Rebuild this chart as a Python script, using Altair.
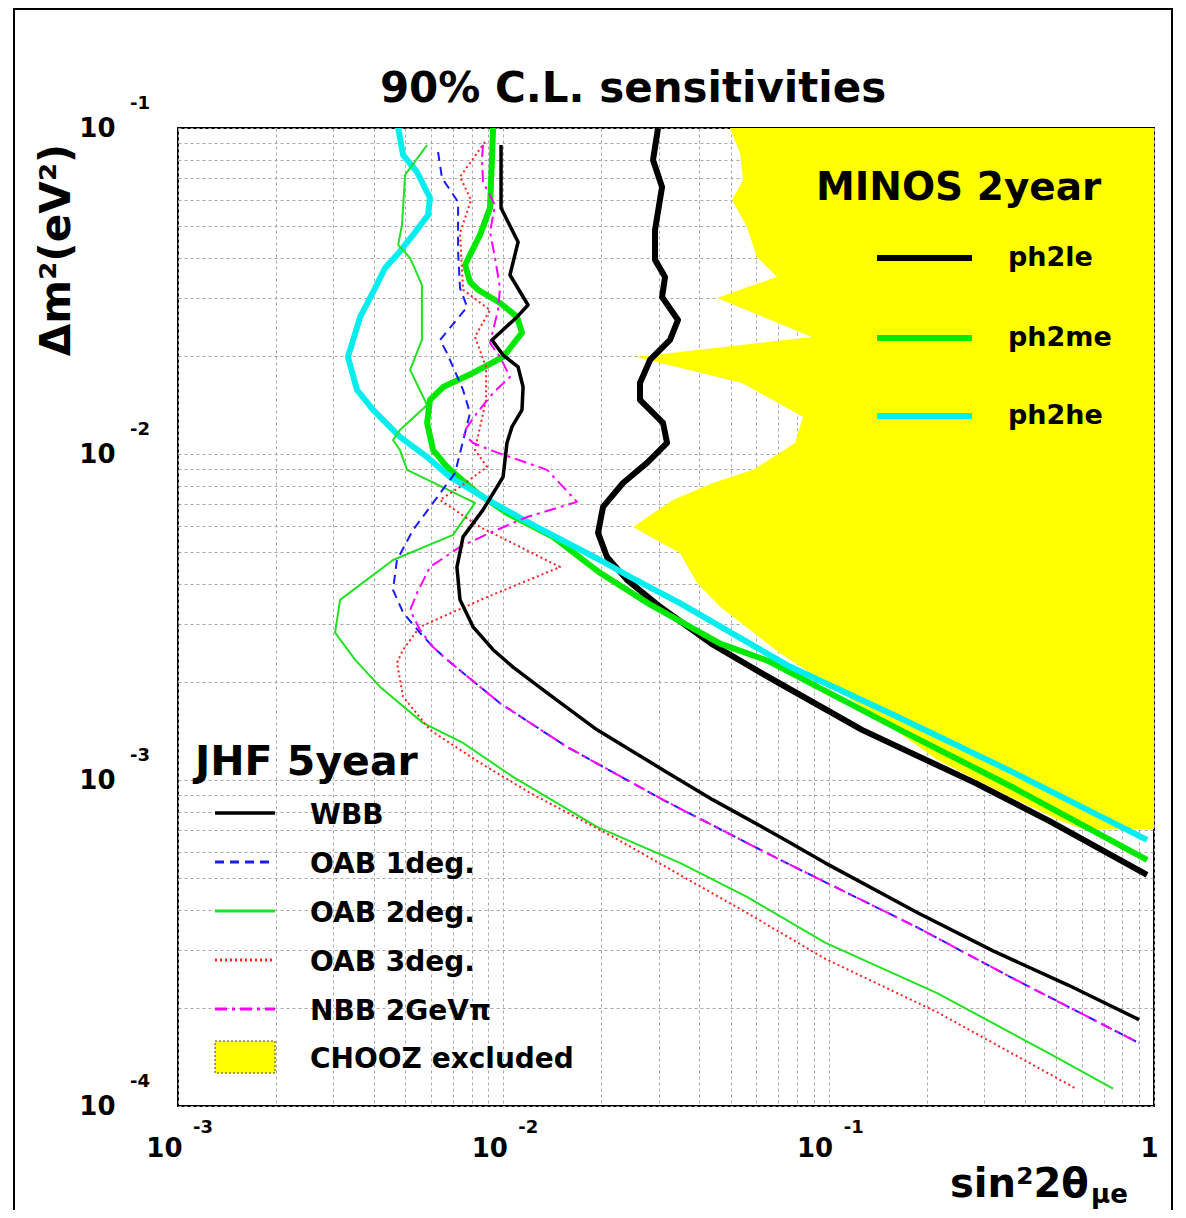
import altair as alt
import pandas as pd

FONT = "DejaVu Sans"
W, H = 976, 978

# ---------------- data (sin^2 2theta, delta m^2 [eV^2]) ----------------
wbb_x = [0.00984, 0.00984, 0.01110, 0.01048, 0.01191, 0.01102, 0.00923, 0.00998, 0.01110, 0.01150,
         0.01141, 0.01063, 0.01026, 0.01012, 0.00998, 0.00866, 0.00752, 0.00720, 0.00736, 0.00807,
         0.00930, 0.01071, 0.01363, 0.01941, 0.03097, 0.04411, 0.07088, 0.09748, 0.1883, 0.3201,
         0.5443, 0.8997]
wbb_y = [0.0887, 0.0568, 0.0447, 0.0354, 0.02865, 0.02633, 0.02238, 0.02012, 0.01849, 0.01605,
         0.01365, 0.01211, 0.01081, 0.00959, 0.00850, 0.00674, 0.00557, 0.00450, 0.00357, 0.00295,
         0.00251, 0.00222, 0.00185, 0.001425, 0.001074, 0.000869, 0.000669, 0.000557, 0.000391, 0.000299,
         0.000235, 0.000184]

oab1_x = [0.00630, 0.00648, 0.00726, 0.00726, 0.00736, 0.00774, 0.00639, 0.00671, 0.00752, 0.00790,
          0.00736, 0.00711, 0.00608, 0.00528, 0.00471, 0.00458, 0.00492, 0.00554, 0.00608, 0.00671,
          0.00977, 0.01570, 0.03097, 0.07088, 0.1883, 0.3663, 0.8997]
oab1_y = [0.0844, 0.0702, 0.0593, 0.0417, 0.0323, 0.02825, 0.02238, 0.02041, 0.01572, 0.01336,
          0.01007, 0.00875, 0.00708, 0.00585, 0.00473, 0.00383, 0.00326, 0.00283, 0.00256, 0.00234,
          0.00172, 0.001263, 0.000869, 0.000569, 0.000352, 0.000247, 0.000156]

oab2_x = [0.00583, 0.00499, 0.00488, 0.00475, 0.00517, 0.00562, 0.00562, 0.00517, 0.00583, 0.00481,
          0.00458, 0.00481, 0.00506, 0.00818, 0.00701, 0.00458, 0.00315, 0.00304, 0.00350, 0.00418,
          0.00566, 0.00752, 0.01071, 0.01941, 0.0349, 0.0561, 0.09748, 0.2155, 0.4760, 0.7484]
oab2_y = [0.0887, 0.0718, 0.0504, 0.0438, 0.0399, 0.0330, 0.02238, 0.01811, 0.01414, 0.01185,
          0.01104, 0.01029, 0.00894, 0.00708, 0.00565, 0.00473, 0.00357, 0.00283, 0.00234, 0.00193,
          0.001497, 0.001299, 0.001022, 0.000718, 0.000557, 0.000438, 0.000317, 0.000222, 0.000145, 0.000113]

oab3_x = [0.00878, 0.00736, 0.00796, 0.00736, 0.00752, 0.00910, 0.00818, 0.00885, 0.00885, 0.00818,
          0.00891, 0.00736, 0.00639, 0.00848, 0.01125, 0.01494, 0.00891, 0.00554, 0.00492, 0.00471,
          0.00492, 0.00595, 0.00848, 0.01208, 0.02174, 0.0561, 0.09748, 0.2155, 0.5761]
oab3_y = [0.0906, 0.0708, 0.0601, 0.0476, 0.0319, 0.02765, 0.02286, 0.01849, 0.01465, 0.01029,
          0.00913, 0.00793, 0.00723, 0.00597, 0.00519, 0.00450, 0.00364, 0.00295, 0.00251, 0.00229,
          0.00180, 0.001425, 0.001129, 0.000913, 0.000669, 0.000391, 0.000283, 0.000194, 0.000113]

nbb_x = [0.00866, 0.00860, 0.00866, 0.00943, 0.00910, 0.00943, 0.00977, 0.00963, 0.00910, 0.00977,
         0.01048, 0.00930, 0.00830, 0.00752, 0.00807, 0.00910, 0.01363, 0.01685, 0.01182, 0.00910,
         0.00736, 0.00595, 0.00543, 0.00517, 0.00554, 0.00608, 0.00671, 0.00977, 0.01570, 0.03097,
         0.07088, 0.1883, 0.3663, 0.8997]
nbb_y = [0.0887, 0.0809, 0.0683, 0.0580, 0.0480, 0.0399, 0.0323, 0.02765, 0.02191, 0.01984,
         0.01723, 0.01539, 0.01336, 0.01160, 0.01081, 0.01029, 0.00894, 0.00713, 0.00641, 0.00573,
         0.00519, 0.00450, 0.00375, 0.00332, 0.00289, 0.00256, 0.00234, 0.00172, 0.001263, 0.000869,
         0.000569, 0.000352, 0.000247, 0.000156]

ph2le_x = [0.02989, 0.02885, 0.03075, 0.02926, 0.02926, 0.03141, 0.03075, 0.03443, 0.03254, 0.02824,
           0.02631, 0.02631, 0.03097, 0.03186, 0.02765, 0.02332, 0.02025, 0.01955, 0.02083, 0.02400,
           0.03032, 0.04411, 0.0620, 0.1266, 0.2818, 0.4760, 0.9521]
ph2le_y = [0.1, 0.0798, 0.0659, 0.0487, 0.0394, 0.0349, 0.0303, 0.02578, 0.02238, 0.01943,
           0.01651, 0.01465, 0.01245, 0.01081, 0.00939, 0.00815, 0.00688, 0.00573, 0.00483, 0.00411,
           0.00340, 0.00260, 0.00213, 0.001425, 0.000980, 0.000749, 0.000512]

ph2me_x = [0.00930, 0.00923, 0.00910, 0.00848, 0.00790, 0.00763, 0.00790, 0.00836, 0.00977, 0.01102,
           0.01141, 0.00998, 0.00807, 0.00653, 0.00595, 0.00583, 0.00608, 0.00671, 0.00830, 0.01026,
           0.01422, 0.01982, 0.02804, 0.0464, 0.0651, 0.1657, 0.3663, 0.9521]
ph2me_y = [0.1, 0.0809, 0.0568, 0.0470, 0.0408, 0.0380, 0.0337, 0.0319, 0.02906, 0.02633,
           0.02351, 0.01984, 0.01773, 0.01605, 0.01465, 0.01245, 0.01029, 0.00913, 0.00760, 0.00659,
           0.00557, 0.00432, 0.00347, 0.00262, 0.00232, 0.001425, 0.000952, 0.000569]

ph2he_x = [0.00475, 0.00492, 0.00543, 0.00595, 0.00587, 0.00528, 0.00471, 0.00433, 0.00398, 0.00363,
           0.00333, 0.00355, 0.00398, 0.00481, 0.00583, 0.00686, 0.00930, 0.01269, 0.01982, 0.02452,
           0.0349, 0.0745, 0.1657, 0.3663, 0.9521]
ph2he_y = [0.1, 0.0826, 0.0733, 0.0610, 0.0541, 0.0470, 0.0408, 0.0372, 0.0314, 0.02633,
           0.01984, 0.01572, 0.01365, 0.01128, 0.00979, 0.00850, 0.00708, 0.00597, 0.00473, 0.00420,
           0.00349, 0.00225, 0.00155, 0.001059, 0.000655]

# CHOOZ excluded region: left boundary (sin^2 2theta) for each delta m^2, filled to sin^2 2theta = 1
chooz_x = [0.0497, 0.0534, 0.0546, 0.0505, 0.0561, 0.0602, 0.0694, 0.0454, 0.0889, 0.02557,
           0.0542, 0.0834, 0.0788, 0.0586, 0.0441, 0.0332, 0.02504, 0.0349, 0.0394, 0.0464,
           0.0709, 0.1266, 0.2155, 0.3663, 0.5179, 0.6051]
chooz_y = [0.1, 0.0838, 0.0693, 0.0601, 0.0497, 0.0402, 0.0349, 0.0301, 0.02286, 0.01984,
           0.01651, 0.01299, 0.01081, 0.00894, 0.00815, 0.00723, 0.00597, 0.00497, 0.00402, 0.00340,
           0.00245, 0.00168, 0.001153, 0.000881, 0.000749, 0.000708]
chooz_x2 = 1.0

x_ticks = [m * 10.0 ** e for e in (-3, -2, -1) for m in range(1, 10)] + [1.0]
y_ticks = [m * 10.0 ** e for e in (-4, -3, -2) for m in range(1, 10)] + [0.1]
x_decades = [0.001, 0.01, 0.1]
x_exps = ["-3", "-2", "-1"]
y_decades = [0.0001, 0.001, 0.01, 0.1]
y_exps = ["-4", "-3", "-2", "-1"]

jhf_labels = ["WBB", "OAB 1deg.", "OAB 2deg.", "OAB 3deg.", "NBB 2GeV\u03c0", "CHOOZ excluded"]
minos_labels = ["ph2le", "ph2me", "ph2he"]

# ---------------- styles ----------------
C_WBB, C_OAB1, C_OAB2, C_OAB3, C_NBB = "#000000", "#1a1aff", "#22e022", "#ff2020", "#ff00ff"
C_LE, C_ME, C_HE, C_CHOOZ = "#000000", "#00e800", "#00eeee", "#ffff00"
S_WBB, S_THIN, S_THICK = 3.5, 2, 6
D_OAB1, D_OAB3, D_NBB = [9, 6], [2, 3], [12, 5, 3, 5]

xscale = alt.Scale(type="log", domain=[1e-3, 1], nice=False)
yscale = alt.Scale(type="log", domain=[1e-4, 1e-1], nice=False)

axis_common = dict(grid=True, gridDash=[3, 3], gridColor="#a8a8a8", gridWidth=1, ticks=False,
                   tickSize=0, domain=False, labelFont=FONT, labelFontWeight="bold",
                   labelFontSize=26, labelColor="black", labelOverlap=False, labelFlush=False,
                   labelBound=False, title=None)
axis_x = alt.Axis(values=x_ticks,
                  labelExpr="datum.value == 1 ? '1' : (indexof([0.001, 0.01, 0.1], datum.value) >= 0 ? '10' : '')",
                  labelAlign="right", labelOffset=4, labelPadding=29, **axis_common)
axis_y = alt.Axis(values=y_ticks,
                  labelExpr="indexof([0.0001, 0.001, 0.01, 0.1], datum.value) >= 0 ? '10' : ''",
                  labelPadding=63, **axis_common)

X = lambda f, **k: alt.X(f, type="quantitative", scale=xscale, axis=axis_x, **k)
Y = lambda f, **k: alt.Y(f, type="quantitative", scale=yscale, axis=axis_y, **k)

dummy = pd.DataFrame({"a": [0]})


def curve(xs, ys, color, width, dash=None):
    df = pd.DataFrame({"x": xs, "y": ys, "i": list(range(len(xs)))})
    kw = dict(color=color, strokeWidth=width, clip=True, strokeJoin="round", strokeCap="butt")
    if dash:
        kw["strokeDash"] = dash
    return alt.Chart(df).mark_line(**kw).encode(x=X("x"), y=Y("y"), order=alt.Order("i:Q"))


def txt(s, x, y, size, align="left", baseline="alphabetic", angle=0):
    return alt.Chart(dummy).mark_text(text=s, font=FONT, fontWeight="bold", fontSize=size,
                                      align=align, baseline=baseline, angle=angle,
                                      color="black").encode(x=alt.value(x), y=alt.value(y))


def hline(x1, x2, y, color, width, dash=None):
    kw = dict(color=color, strokeWidth=width)
    if dash:
        kw["strokeDash"] = dash
    return alt.Chart(dummy).mark_rule(**kw).encode(x=alt.value(x1), x2=alt.value(x2), y=alt.value(y))


layers = []

# outer figure frame
layers.append(alt.Chart(dummy).mark_rect(fill=None, stroke="black", strokeWidth=2).encode(
    x=alt.value(-164), x2=alt.value(994), y=alt.value(-119), y2=alt.value(1100)))

# CHOOZ region (horizontal area: from boundary to sin^2 2theta = 1)
chooz_df = pd.DataFrame({"x": chooz_x, "x2": [chooz_x2] * len(chooz_x), "y": chooz_y})
layers.append(alt.Chart(chooz_df).mark_area(orient="horizontal", color=C_CHOOZ, opacity=1, clip=True)
              .encode(x=X("x", stack=None), x2="x2:Q", y=Y("y")))

# MINOS thick curves
layers.append(curve(ph2le_x, ph2le_y, C_LE, S_THICK))
layers.append(curve(ph2me_x, ph2me_y, C_ME, S_THICK))
layers.append(curve(ph2he_x, ph2he_y, C_HE, S_THICK))

# JHF curves
layers.append(curve(oab2_x, oab2_y, C_OAB2, S_THIN))
layers.append(curve(oab3_x, oab3_y, C_OAB3, S_THIN, D_OAB3))
layers.append(curve(oab1_x, oab1_y, C_OAB1, S_THIN, D_OAB1))
layers.append(curve(nbb_x, nbb_y, C_NBB, S_THIN, D_NBB))
layers.append(curve(wbb_x, wbb_y, C_WBB, S_WBB))

# axis exponents
xe = pd.DataFrame({"v": x_decades, "t": x_exps})
layers.append(alt.Chart(xe).mark_text(font=FONT, fontWeight="bold", fontSize=18, align="left",
                                      baseline="middle", dx=15, color="black")
              .encode(x=X("v"), y=alt.value(H + 22), text="t:N"))
ye = pd.DataFrame({"v": y_decades, "t": y_exps})
layers.append(alt.Chart(ye).mark_text(font=FONT, fontWeight="bold", fontSize=18, align="left",
                                      baseline="middle", dy=-24, color="black")
              .encode(y=Y("v"), x=alt.value(-48), text="t:N"))

# titles
layers.append(txt("90% C.L. sensitivities", 455, -26, 42, align="center"))
layers.append(txt("\u0394m\u00b2(eV\u00b2)", -121, 122, 42, align="center", baseline="middle", angle=270))
layers.append(txt("sin\u00b22\u03b8", 772, 1069, 40))
layers.append(txt("\u03bce", 913, 1075, 26))

# MINOS legend
layers.append(txt("MINOS 2year", 638, 72, 39))
minos_styles = [(C_LE, None), (C_ME, None), (C_HE, None)]
minos_rows = [130, 210, 288]
for lab, (col, dash), yy in zip(minos_labels, minos_styles, minos_rows):
    layers.append(hline(699, 794, yy, col, S_THICK, dash))
    layers.append(txt(lab, 830, yy + 8, 27))

# JHF legend
layers.append(txt("JHF 5year", 17, 647, 41))
jhf_styles = [(C_WBB, S_WBB, None), (C_OAB1, S_THIN + 1, D_OAB1), (C_OAB2, S_THIN + 1, None),
              (C_OAB3, S_THIN + 1, D_OAB3), (C_NBB, S_THIN + 1, D_NBB)]
jhf_rows = [685, 734, 783, 832, 881, 929]
for lab, st, yy in zip(jhf_labels[:5], jhf_styles, jhf_rows[:5]):
    layers.append(hline(37, 97, yy, st[0], st[1], st[2]))
    layers.append(txt(lab, 132, yy + 11, 28))
layers.append(alt.Chart(dummy).mark_rect(fill=C_CHOOZ, stroke="#444444", strokeWidth=1, strokeDash=[2, 2])
              .encode(x=alt.value(37), x2=alt.value(97), y=alt.value(913), y2=alt.value(945)))
layers.append(txt(jhf_labels[5], 132, jhf_rows[5] + 11, 28))

chart = alt.layer(*layers).properties(
    width=W, height=H,
    autosize=alt.AutoSizeParams(type="none", contains="content"),
    padding={"left": 170, "top": 120, "right": 22, "bottom": 104},
    background="white",
).configure_view(stroke="black", strokeWidth=2)

chart.save("out.html", embed_options={"renderer": "svg", "actions": False})
